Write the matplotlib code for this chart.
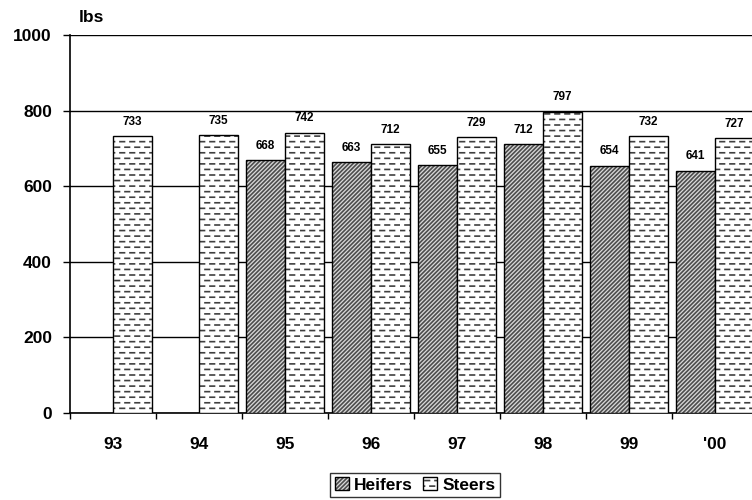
import numpy as np
import matplotlib.pyplot as plt
from matplotlib import hatch as mhatch
from matplotlib.path import Path

# Weaning weights by year
years = ["93", "94", "95", "96", "97", "98", "99", "'00"]
heifers = [np.nan, np.nan, 668, 663, 655, 712, 654, 641]
steers = [733, 735, 742, 712, 729, 797, 732, 727]

plt.rcParams['font.family'] = ['Liberation Sans', 'DejaVu Sans']
plt.rcParams['font.weight'] = 'bold'
plt.rcParams['hatch.linewidth'] = 1.2


# Short staggered dashes, triggered by the '_' hatch character
class DashHatch(mhatch.HatchPatternBase):
    def __init__(self, hatch, density):
        self.num_rows = int(hatch.count('_') * density)
        self.cols = 10
        self.num_vertices = self.num_rows * self.cols * 2 if self.num_rows else 0

    def set_vertices_and_codes(self, vertices, codes):
        if not self.num_rows:
            return
        dash = 0.045
        k = 0
        for i in range(self.num_rows):
            y = (i + 0.5) / self.num_rows
            shift = 0.5 / self.cols if i % 2 else 0.0
            for j in range(self.cols):
                x0 = (j / self.cols + shift) % 1.0
                x0 = min(x0, 1.0 - dash)
                vertices[k] = (x0, y)
                vertices[k + 1] = (x0 + dash, y)
                codes[k] = Path.MOVETO
                codes[k + 1] = Path.LINETO
                k += 2


mhatch._hatch_types.append(DashHatch)

fig = plt.figure(figsize=(7.52, 5.0), dpi=100)
ax = fig.add_axes([70 / 752, 87 / 500, 688 / 752, 378 / 500])

x = np.arange(len(years))
w = 0.453

hb = ax.bar(x - w / 2, heifers, w, facecolor='#dadada', edgecolor='black',
            hatch='/' * 8, linewidth=1.0, label='Heifers', zorder=3)
sb = ax.bar(x + w / 2, steers, w, facecolor='white', edgecolor='black',
            hatch='___', linewidth=1.0, label='Steers', zorder=3)
for b in hb:
    b._hatch_color = (0.3, 0.3, 0.3, 1.0)
for b in sb:
    b._hatch_color = (0.25, 0.25, 0.25, 1.0)

for bars, vals in ((hb, heifers), (sb, steers)):
    for b, v in zip(bars, vals):
        if np.isnan(v):
            continue
        ax.annotate(f"{v:.0f}", (b.get_x() + b.get_width() / 2, v),
                    xytext=(0, 6), textcoords='offset points',
                    ha='center', va='bottom', fontsize=8.5, fontweight='bold')

ax.set_ylim(0, 1000)
ax.set_xlim(-0.5, len(years) - 0.5)
ax.set_yticks([0, 200, 400, 600, 800, 1000])
ax.yaxis.grid(True, color='black', linewidth=1.0, zorder=0)
ax.set_axisbelow(True)

ax.set_xticks(x)
ax.set_xticklabels(years)
ax.set_xticks(np.arange(len(years) + 1) - 0.5, minor=True)
ax.tick_params(axis='x', which='major', length=0, pad=17, labelsize=12.5)
ax.tick_params(axis='x', which='minor', length=4, width=1.0, direction='out')
ax.tick_params(axis='y', length=5, width=1.0, labelsize=12.5, pad=8)

for lab in ax.get_xticklabels() + ax.get_yticklabels():
    lab.set_fontweight('bold')

ax.spines['top'].set_visible(False)
ax.spines['right'].set_visible(False)
ax.spines['left'].set_linewidth(1.2)
ax.spines['bottom'].set_linewidth(1.2)

fig.text(79 / 752, 1 - 18 / 500, "lbs", fontsize=12.5, fontweight='bold',
         ha='left', va='center')

leg = fig.legend(handles=[hb, sb], loc='center', bbox_to_anchor=(415 / 752, 1 - 485 / 500),
                 ncol=2, frameon=True, fancybox=False, edgecolor='black',
                 prop={'weight': 'bold', 'size': 12.5}, handlelength=0.8,
                 handleheight=0.8, handletextpad=0.3, columnspacing=0.6,
                 borderpad=0.25, borderaxespad=0)
leg.get_frame().set_linewidth(1.0)

fig.savefig("out.png", dpi=100)
